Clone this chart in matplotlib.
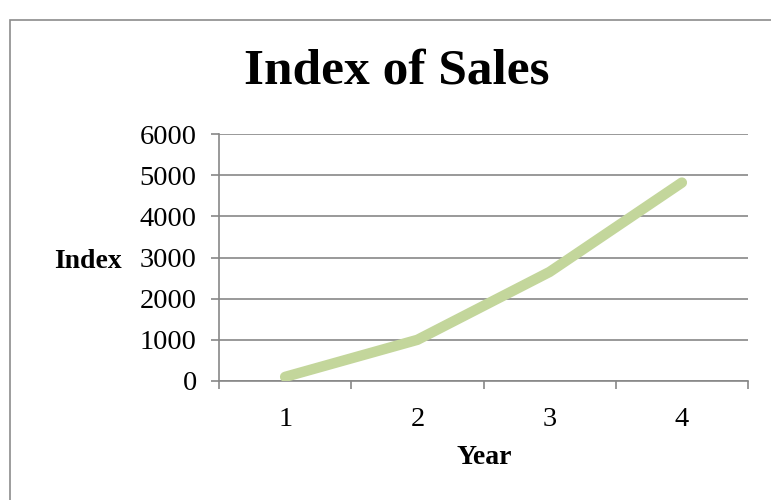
import matplotlib
matplotlib.use("Agg")
import matplotlib.pyplot as plt
from matplotlib.patches import Rectangle

years = ["1", "2", "3", "4"]
index_values = [100, 1000, 2650, 4820]
y_ticks = [0, 1000, 2000, 3000, 4000, 5000, 6000]

plt.rcParams["font.family"] = ["Liberation Serif", "DejaVu Serif"]

grid_color = "#878787"
line_color = "#C3D69B"

fig = plt.figure(figsize=(7.71, 5.0), dpi=100)
ax = fig.add_axes([219 / 771, 1 - 381 / 500, (748 - 219) / 771, (381 - 134) / 500])

x = list(range(1, len(years) + 1))
ax.plot(x, index_values, color=line_color, linewidth=7.5,
        solid_capstyle="round", solid_joinstyle="round", zorder=3)

ax.set_xlim(0.5, len(years) + 0.5)
ax.set_ylim(y_ticks[0], y_ticks[-1])
ax.set_yticks(y_ticks)
ax.set_yticklabels([str(v) for v in y_ticks], fontsize=20.5)
ax.set_xticks(x)
ax.set_xticklabels(years, fontsize=20.5)
ax.set_xticks([i + 0.5 for i in range(len(years) + 1)], minor=True)

ax.tick_params(axis="x", which="major", length=0, pad=19)
ax.tick_params(axis="x", which="minor", length=6, width=1.2, color=grid_color, direction="out")
ax.tick_params(axis="y", which="major", length=6, width=1.2, color=grid_color, direction="out", pad=10)

ax.grid(axis="y", color=grid_color, linewidth=1.2)
ax.set_axisbelow(True)
for side in ("top", "right"):
    ax.spines[side].set_visible(False)
for side in ("left", "bottom"):
    ax.spines[side].set_color(grid_color)
    ax.spines[side].set_linewidth(1.2)

fig.text(397 / 771, 1 - 72 / 500, "Index of Sales", fontsize=37, fontweight="bold",
         ha="center", va="center")
fig.text(88 / 771, 1 - 261 / 500, "Index", fontsize=20, fontweight="bold",
         ha="center", va="center")
fig.text(484 / 771, 1 - 458 / 500, "Year", fontsize=20, fontweight="bold",
         ha="center", va="center")

fig.patches.append(Rectangle((10 / 771, -0.1), 1.1, 1 - 20 / 500 + 0.1,
                             transform=fig.transFigure, fill=False,
                             edgecolor="#8c8c8c", linewidth=1.2))

fig.savefig("out.png", dpi=100)
